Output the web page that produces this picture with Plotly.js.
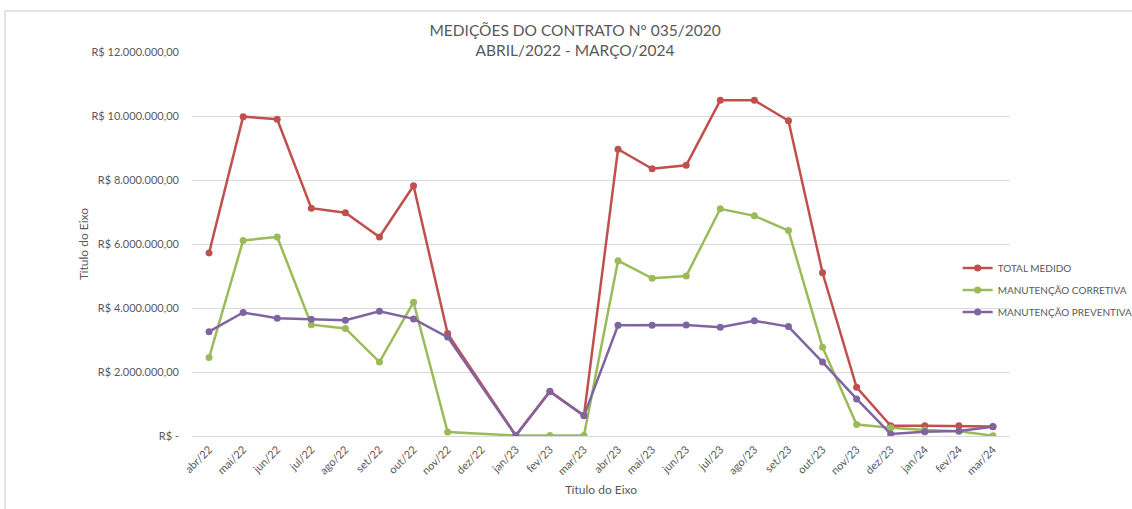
<!DOCTYPE html>
<html>
<head>
<meta charset="utf-8">
<script src="https://cdn.plot.ly/plotly-3.0.1.min.js"></script>
<style>
  html, body { margin: 0; padding: 0; background: #ffffff; }
  #chart { width: 1132px; height: 509px; }
  #frame { position: absolute; left: 4px; top: 10px; width: 1128px; height: 499px;
           border-top: 2px solid #e3e3e3; border-left: 2px solid #e3e3e3; pointer-events: none; box-sizing: border-box; }
</style>
</head>
<body>
<div id="chart"></div>
<div id="frame"></div>
<script>
const categories = ["abr/22","mai/22","jun/22","jul/22","ago/22","set/22","out/22","nov/22","dez/22","jan/23","fev/23","mar/23",
                    "abr/23","mai/23","jun/23","jul/23","ago/23","set/23","out/23","nov/23","dez/23","jan/24","fev/24","mar/24"];
const totalMedido = [5720000, 9980000, 9900000, 7120000, 6980000, 6220000, 7820000, 3200000, null, 20000, 1400000, 640000,
                     8960000, 8350000, 8460000, 10490000, 10490000, 9850000, 5100000, 1520000, 320000, 320000, 320000, 300000];
const manutencaoCorretiva = [2450000, 6110000, 6220000, 3480000, 3360000, 2310000, 4180000, 125000, null, 15000, 15000, 15000,
                             5480000, 4930000, 5000000, 7100000, 6880000, 6420000, 2770000, 360000, 260000, 190000, 150000, 10000];
const manutencaoPreventiva = [3260000, 3860000, 3680000, 3650000, 3620000, 3900000, 3660000, 3090000, null, 10000, 1380000, 630000,
                              3460000, 3460000, 3470000, 3400000, 3600000, 3420000, 2310000, 1160000, 60000, 130000, 160000, 290000];
const yTickVals = [0, 2000000, 4000000, 6000000, 8000000, 10000000, 12000000];
const yTickText = ["R$ -", "R$ 2.000.000,00", "R$ 4.000.000,00", "R$ 6.000.000,00", "R$ 8.000.000,00", "R$ 10.000.000,00", "R$ 12.000.000,00"];

const FONT = "Lato, 'Open Sans', sans-serif";
const TXT = "#595959";

function series(name, y, color, grp) {
  return {
    type: "scatter", mode: "lines+markers", name: name, x: categories, y: y,
    connectgaps: true, legendgroup: grp,
    line: { color: color, width: 2.5 },
    marker: { color: color, size: 7 },
    hoverinfo: "x+y+name"
  };
}

const data = [
  series("TOTAL MEDIDO", totalMedido, "#C0504D", "a"),
  series("MANUTENÇÃO CORRETIVA", manutencaoCorretiva, "#9BBB59", "b"),
  series("MANUTENÇÃO PREVENTIVA", manutencaoPreventiva, "#8064A2", "c")
];

const layout = {
  width: 1132, height: 509,
  margin: { l: 192, r: 122, t: 52, b: 73, autoexpand: false },
  paper_bgcolor: "#ffffff", plot_bgcolor: "#ffffff",
  font: { family: FONT, color: TXT, size: 11 },
  title: {
    text: "MEDIÇÕES DO CONTRATO Nº 035/2020<br>ABRIL/2022 - MARÇO/2024",
    font: { family: FONT, size: 15.5, color: TXT },
    x: 0.508, xanchor: "center", y: 0.93, yanchor: "middle", yref: "container"
  },
  xaxis: {
    type: "category",
    range: [-0.5, categories.length - 0.5],
    autorange: false,
    tickangle: -45,
    tickfont: { size: 11, color: TXT },
    showgrid: false, showline: false, zeroline: false,
    ticks: "",
    ticklabelstandoff: 4,
    title: { text: "Título do Eixo", font: { size: 12, color: TXT }, standoff: 9 }
  },
  yaxis: {
    range: [0, 12000000],
    tickvals: yTickVals, ticktext: yTickText,
    tickfont: { size: 11, color: TXT },
    showgrid: true, gridcolor: "#d9d9d9", gridwidth: 1,
    zeroline: true, zerolinecolor: "#d9d9d9", zerolinewidth: 1,
    showline: false, ticks: "",
    ticklabelstandoff: 12,
    title: { text: "Título do Eixo", font: { size: 12, color: TXT }, standoff: 0 }
  },
  legend: {
    x: 0.936, xanchor: "left", y: 0.38, yanchor: "middle",
    font: { size: 10, color: TXT },
    itemwidth: 30,
    tracegroupgap: 3,
    bgcolor: "rgba(0,0,0,0)"
  },
  showlegend: true
};

Plotly.newPlot("chart", data, layout, { displayModeBar: false });
</script>
</body>
</html>
